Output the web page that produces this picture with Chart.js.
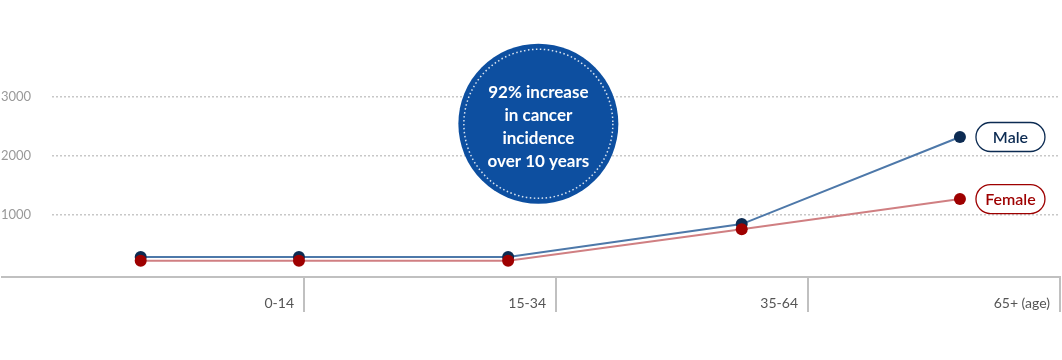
<!DOCTYPE html>
<html><head><meta charset="utf-8">
<script src="https://cdn.jsdelivr.net/npm/chart.js@4.4.1/dist/chart.umd.min.js"></script>
<style>html,body{margin:0;padding:0;background:#fff}#wrap{width:1062px;height:360px;position:relative}</style>
</head><body><div id="wrap"><canvas id="c"></canvas></div>
<script>
// ---- data ----
const categories = ['0-14', '15-34', '35-64', '65+ (age)'];
const categoryEdges = [1, 2, 3, 4];
const pointX = [0.352, 0.98, 1.81, 2.737, 3.603];
const maleValues = [280, 280, 280, 840, 2320];
const femaleValues = [215, 215, 215, 750, 1265];
const yTickValues = [1000, 2000, 3000];
const seriesNames = ['Male', 'Female'];
const calloutLines = ['92% increase', 'in cancer', 'incidence', 'over 10 years'];
const calloutAt = { x: 1.93, y: 2545 };

const colors = {
  maleLine: '#4d78a9', malePoint: '#0c2b52',
  femaleLine: '#d07f82', femalePoint: '#9e0000',
  axis: '#c0c0c0', grid: '#c8c8c8', circle: '#0d4fa0'
};

const toXY = vals => vals.map((v, i) => ({ x: pointX[i], y: v }));

const axisExtension = {
  id: 'axisExtension',
  beforeDatasetsDraw(chart) {
    const { ctx, chartArea } = chart;
    const xs = chart.scales.x;
    ctx.save();
    ctx.strokeStyle = colors.axis;
    ctx.lineWidth = 2;
    ctx.beginPath();
    ctx.moveTo(1, Math.round(xs.top));
    ctx.lineTo(chartArea.left + 1, Math.round(xs.top));
    ctx.stroke();
    ctx.restore();
  }
};

const labelsPlugin = {
  id: 'labelsPlugin',
  afterDatasetsDraw(chart) {
    const { ctx } = chart;
    const xs = chart.scales.x, ys = chart.scales.y;
    // callout circle
    const cx = xs.getPixelForValue(calloutAt.x), cy = ys.getPixelForValue(calloutAt.y);
    ctx.save();
    ctx.fillStyle = colors.circle;
    ctx.beginPath(); ctx.arc(cx, cy, 80, 0, Math.PI * 2); ctx.fill();
    ctx.strokeStyle = 'rgba(255,255,255,0.85)';
    ctx.lineWidth = 1.5;
    ctx.setLineDash([1.5, 2.5]);
    ctx.beginPath(); ctx.arc(cx, cy, 74.5, 0, Math.PI * 2); ctx.stroke();
    ctx.setLineDash([]);
    ctx.fillStyle = '#fff';
    ctx.font = 'bold 17px Lato';
    ctx.textAlign = 'center';
    ctx.textBaseline = 'middle';
    calloutLines.forEach((t, i) => ctx.fillText(t, cx, cy + (i - 1.5) * 23 + 3));
    // series pills
    const pillStyles = [
      { name: seriesNames[1], color: colors.femalePoint },
      { name: seriesNames[0], color: colors.malePoint }
    ];
    chart.data.datasets.forEach((ds, di) => {
      const meta = chart.getDatasetMeta(di);
      const pt = meta.data[meta.data.length - 1];
      const st = pillStyles[di];
      const x0 = pt.x + 16, w = 69, h = 29, y0 = pt.y - h / 2;
      ctx.strokeStyle = st.color;
      ctx.lineWidth = 1.3;
      ctx.beginPath();
      ctx.roundRect(x0, y0, w, h, h / 2);
      ctx.stroke();
      ctx.fillStyle = st.color;
      ctx.font = '600 16px Lato';
      ctx.textAlign = 'center';
      ctx.textBaseline = 'middle';
      ctx.fillText(st.name, x0 + w / 2, pt.y + 0.5);
    });
    ctx.restore();
  }
};

new Chart(document.getElementById('c'), {
  type: 'line',
  data: {
    datasets: [
      { label: seriesNames[1], data: toXY(femaleValues), borderColor: colors.femaleLine, backgroundColor: colors.femalePoint,
        pointBackgroundColor: colors.femalePoint, pointBorderWidth: 0, pointRadius: 6, borderWidth: 2, tension: 0, clip: false },
      { label: seriesNames[0], data: toXY(maleValues), borderColor: colors.maleLine, backgroundColor: colors.malePoint,
        pointBackgroundColor: colors.malePoint, pointBorderWidth: 0, pointRadius: 6, borderWidth: 2, tension: 0, clip: false }
    ]
  },
  options: {
    responsive: true,
    maintainAspectRatio: false,
    animation: false,
    layout: { autoPadding: false, padding: { top: 97, left: 1, right: 2, bottom: 0 } },
    plugins: { legend: { display: false }, tooltip: { enabled: false } },
    scales: {
      x: {
        type: 'linear', min: 0, max: 4,
        afterBuildTicks: s => { s.ticks = categoryEdges.map(v => ({ value: v })); },
        afterFit: s => { s.height = 83; },
        ticks: {
          callback: (v, i) => categories[i],
          align: 'end', labelOffset: -10, padding: -17,
          autoSkip: false, maxRotation: 0,
          color: '#555', font: { family: 'Lato', size: 14 }
        },
        grid: { drawOnChartArea: false, drawTicks: true, tickLength: 35, color: colors.axis, lineWidth: 2 },
        border: { display: true, color: colors.axis, width: 2 }
      },
      y: {
        type: 'linear', min: -60, max: 3000,
        afterBuildTicks: s => { s.ticks = yTickValues.map(v => ({ value: v })); },
        afterFit: s => { s.width = 51; },
        ticks: { crossAlign: 'far', color: '#999', font: { family: 'Lato', size: 13 }, callback: v => String(v) },
        grid: { color: colors.grid, lineWidth: 1.5, drawTicks: false },
        border: { display: false, dash: [2, 2] }
      }
    }
  },
  plugins: [axisExtension, labelsPlugin]
});
</script>
</body></html>
